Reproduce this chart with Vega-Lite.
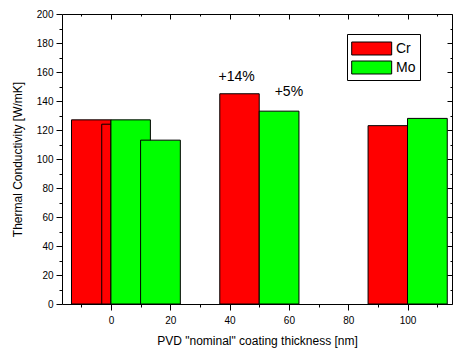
{
  "$schema": "https://vega.github.io/schema/vega-lite/v6.json",
  "autosize": "none",
  "width": 390,
  "height": 290,
  "padding": {"left": 62, "top": 14, "right": 2, "bottom": 48},
  "background": "white",
  "config": {
    "view": {"stroke": null},
    "font": "Liberation Sans",
    "axis": {"domain": true, "ticks": true, "domainColor": "#000000", "domainWidth": 1, "tickColor": "#000000", "tickWidth": 1, "labelColor": "black", "titleColor": "black", "grid": false, "labelFont": "Liberation Sans", "titleFont": "Liberation Sans", "titleFontWeight": "normal", "labelFontSize": 10, "titleFontSize": 12}
  },
  "datasets": {
    "bars": [
      {"material": "Cr", "start": -13.3, "end": 0, "value": 127},
      {"material": "Cr", "start": -3.1, "end": 0, "value": 124},
      {"material": "Mo", "start": 0, "end": 13.3, "value": 127},
      {"material": "Mo", "start": 10, "end": 23.4, "value": 113},
      {"material": "Cr", "start": 36.7, "end": 50, "value": 145},
      {"material": "Mo", "start": 50, "end": 63.4, "value": 133},
      {"material": "Cr", "start": 86.7, "end": 100, "value": 123},
      {"material": "Mo", "start": 100, "end": 113.4, "value": 128}
    ],
    "notes": [
      {"pos": 42.4, "value": 156.5, "label": "+14%"},
      {"pos": 60, "value": 146, "label": "+5%"}
    ]
  },
  "layer": [
    {
      "data": {"name": "bars"},
      "mark": {"type": "bar", "stroke": "black", "strokeWidth": 1, "opacity": 1},
      "encoding": {
        "x": {
          "field": "start", "type": "quantitative",
          "scale": {"domain": [-16.5, 115], "nice": false, "zero": false},
          "axis": {
            "orient": "bottom",
            "values": [0, 20, 40, 60, 80, 100],
            "tickSize": 6,
            "labelPadding": 5,
            "title": "PVD \"nominal\" coating thickness [nm]",
            "titlePadding": 10
          }
        },
        "x2": {"field": "end"},
        "y": {
          "field": "value", "type": "quantitative",
          "scale": {"domain": [0, 200], "nice": false},
          "axis": {
            "orient": "left",
            "values": [0, 20, 40, 60, 80, 100, 120, 140, 160, 180, 200],
            "tickSize": 6,
            "labelPadding": 3,
            "title": "Thermal Conductivity [W/mK]",
            "titlePadding": 12
          }
        },
        "y2": {"datum": 0},
        "color": {
          "field": "material", "type": "nominal",
          "scale": {"domain": ["Cr", "Mo"], "range": ["#ff0000", "#00ff00"]},
          "legend": {
            "title": null,
            "orient": "none",
            "legendX": 285,
            "legendY": 20,
            "strokeColor": "black",
            "fillColor": "white",
            "padding": 4,
            "symbolType": "M-1,-0.663H3.08V0.663H-1Z",
            "symbolSize": 384,
            "symbolStrokeColor": "black",
            "symbolStrokeWidth": 1,
            "symbolOpacity": 1,
            "labelFontSize": 14,
            "labelFont": "Liberation Sans",
            "labelColor": "black",
            "labelOffset": 24,
            "rowPadding": 0
          }
        }
      }
    },
    {
      "data": {"name": "notes"},
      "mark": {"type": "text", "fontSize": 14, "font": "Liberation Sans", "color": "black", "baseline": "middle", "align": "center"},
      "encoding": {
        "x": {
          "field": "pos", "type": "quantitative",
          "axis": {"orient": "top", "values": [0, 20, 40, 60, 80, 100], "labels": false, "title": null, "tickSize": -5}
        },
        "y": {
          "field": "value", "type": "quantitative",
          "axis": {"orient": "right", "values": [0, 20, 40, 60, 80, 100, 120, 140, 160, 180, 200], "labels": false, "title": null, "tickSize": -5}
        },
        "text": {"field": "label"}
      }
    },
    {
      "data": {"name": "notes"},
      "mark": {"type": "text", "opacity": 0},
      "encoding": {
        "x": {
          "field": "pos", "type": "quantitative",
          "axis": {"orient": "bottom", "values": [-10, 10, 30, 50, 70, 90, 110], "labels": false, "title": null, "domain": false, "tickSize": 3}
        },
        "y": {
          "field": "value", "type": "quantitative",
          "axis": {"orient": "left", "values": [10, 30, 50, 70, 90, 110, 130, 150, 170, 190], "labels": false, "title": null, "domain": false, "tickSize": 3}
        },
        "text": {"field": "label"}
      }
    },
    {
      "data": {"name": "notes"},
      "mark": {"type": "text", "opacity": 0},
      "encoding": {
        "x": {
          "field": "pos", "type": "quantitative",
          "axis": {"orient": "top", "values": [-10, 10, 30, 50, 70, 90, 110], "labels": false, "title": null, "domain": false, "tickSize": -2}
        },
        "y": {
          "field": "value", "type": "quantitative",
          "axis": {"orient": "right", "values": [10, 30, 50, 70, 90, 110, 130, 150, 170, 190], "labels": false, "title": null, "domain": false, "tickSize": -2}
        },
        "text": {"field": "label"}
      }
    }
  ],
  "resolve": {"axis": {"x": "independent", "y": "independent"}}
}
